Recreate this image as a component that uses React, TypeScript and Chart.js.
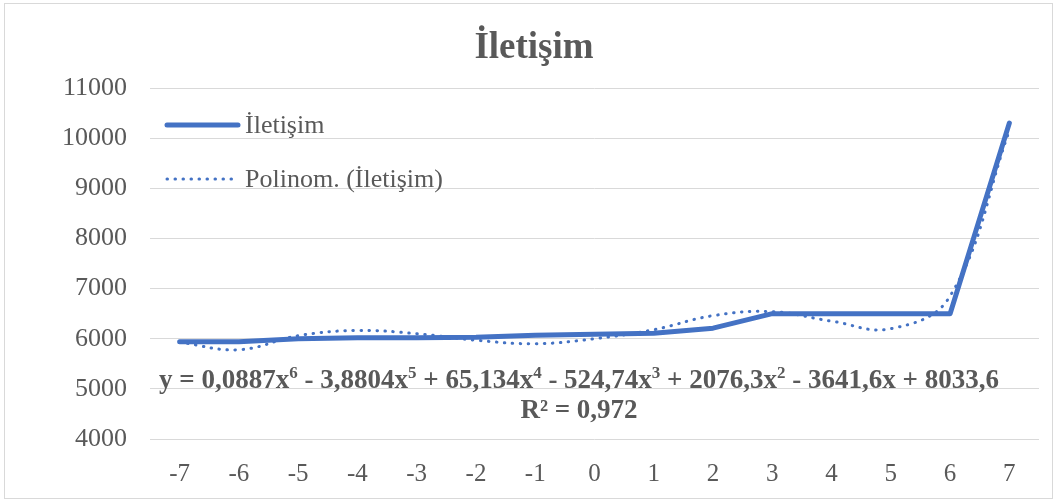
import React, { useEffect, useRef } from "react";
import { Chart, registerables } from "chart.js";

Chart.register(...registerables);

const categories = ["-7", "-6", "-5", "-4", "-3", "-2", "-1", "0", "1", "2", "3", "4", "5", "6", "7"];
const iletisim = [5940, 5940, 6000, 6020, 6020, 6030, 6070, 6090, 6110, 6210, 6500, 6500, 6500, 6500, 10300];
const trendline = [5930, 5780, 6060, 6165, 6100, 5970, 5900, 6000, 6180, 6460, 6540, 6350, 6200, 6850, 10150];
const seriesName = "İletişim";
const trendName = "Polinom. (İletişim)";
const titleText = "İletişim";
const equationParts: { t: string; sup?: boolean }[] = [
  { t: "y = 0,0887x" }, { t: "6", sup: true },
  { t: " - 3,8804x" }, { t: "5", sup: true },
  { t: " + 65,134x" }, { t: "4", sup: true },
  { t: " - 524,74x" }, { t: "3", sup: true },
  { t: " + 2076,3x" }, { t: "2", sup: true },
  { t: " - 3641,6x + 8033,6" },
];
const r2Text = "R² = 0,972";

const SERIF = "'Liberation Serif', 'Times New Roman', serif";
const BLUE = "#4472C4";
const GRAY = "#595959";

const overlayPlugin = {
  id: "overlay",
  beforeDraw(chart: any) {
    const ctx = chart.ctx;
    ctx.save();
    ctx.fillStyle = "#ffffff";
    ctx.fillRect(0, 0, chart.width, chart.height);
    ctx.strokeStyle = "#d9d9d9";
    ctx.lineWidth = 1;
    ctx.strokeRect(4.5, 3.5, chart.width - 9, chart.height - 7);
    ctx.restore();
  },
  afterDraw(chart: any) {
    const ctx = chart.ctx;
    const area = chart.chartArea;
    ctx.save();
    // title
    ctx.fillStyle = GRAY;
    ctx.font = `bold 37px ${SERIF}`;
    ctx.textAlign = "center";
    ctx.textBaseline = "alphabetic";
    ctx.fillText(titleText, 534, 58);

    // legend
    const lx = area.left + 17;
    ctx.lineCap = "round";
    ctx.strokeStyle = BLUE;
    ctx.lineWidth = 5;
    ctx.beginPath();
    ctx.moveTo(lx, 125);
    ctx.lineTo(lx + 71, 125);
    ctx.stroke();
    ctx.lineWidth = 3;
    ctx.setLineDash([0.5, 7.5]);
    ctx.beginPath();
    ctx.moveTo(lx, 179);
    ctx.lineTo(lx + 71, 179);
    ctx.stroke();
    ctx.setLineDash([]);
    ctx.fillStyle = GRAY;
    ctx.font = `26px ${SERIF}`;
    ctx.textAlign = "left";
    ctx.textBaseline = "middle";
    ctx.fillText(seriesName, lx + 78, 126);
    ctx.fillText(trendName, lx + 78, 180);

    // equation
    const big = `bold 27px ${SERIF}`;
    const small = `bold 17px ${SERIF}`;
    let total = 0;
    for (const p of equationParts) {
      ctx.font = p.sup ? small : big;
      total += ctx.measureText(p.t).width;
    }
    const cx = 579;
    let x = cx - total / 2;
    ctx.textAlign = "left";
    ctx.textBaseline = "alphabetic";
    ctx.fillStyle = GRAY;
    for (const p of equationParts) {
      ctx.font = p.sup ? small : big;
      ctx.fillText(p.t, x, p.sup ? 378 : 388);
      x += ctx.measureText(p.t).width;
    }
    ctx.font = big;
    ctx.textAlign = "center";
    ctx.fillText(r2Text, cx, 418);
    ctx.restore();
  },
};

export default function App() {
  const ref = useRef<HTMLCanvasElement | null>(null);
  useEffect(() => {
    if (!ref.current) return;
    const chart = new Chart(ref.current, {
      type: "line",
      data: {
        labels: categories,
        datasets: [
          {
            label: seriesName,
            data: iletisim,
            borderColor: BLUE,
            backgroundColor: BLUE,
            borderWidth: 5,
            borderJoinStyle: "round",
            borderCapStyle: "round",
            pointRadius: 0,
            tension: 0,
          },
          {
            label: trendName,
            data: trendline,
            borderColor: BLUE,
            backgroundColor: BLUE,
            borderWidth: 3,
            borderCapStyle: "round",
            borderDash: [0.5, 7.5],
            pointRadius: 0,
            tension: 0.4,
          },
        ],
      },
      options: {
        responsive: false,
        animation: false,
        layout: { padding: { top: 88, right: 18, left: 0, bottom: 0 } },
        plugins: {
          legend: { display: false },
          title: { display: false },
          tooltip: { enabled: false },
        },
        scales: {
          x: {
            offset: true,
            grid: { display: false, drawTicks: false },
            border: { display: false },
            ticks: {
              color: GRAY,
              font: { family: SERIF, size: 25 },
              padding: 20,
              maxRotation: 0,
              autoSkip: false,
            },
            afterFit: (s: any) => {
              s.height = 63;
            },
          },
          y: {
            min: 4000,
            max: 11000,
            grid: { color: "#d9d9d9", lineWidth: 1, drawTicks: false },
            border: { display: false },
            ticks: {
              stepSize: 1000,
              color: GRAY,
              font: { family: SERIF, size: 26 },
              padding: 23,
              callback: (v: any) => String(v),
            },
            afterFit: (s: any) => {
              s.width = 150;
            },
          },
        },
      },
      plugins: [overlayPlugin],
    });
    return () => chart.destroy();
  }, []);
  return (
    <div style={{ position: "fixed", left: 0, top: 0, width: 1057, height: 502 }}>
      <canvas ref={ref} width={1057} height={502} style={{ display: "block" }} />
    </div>
  );
}
